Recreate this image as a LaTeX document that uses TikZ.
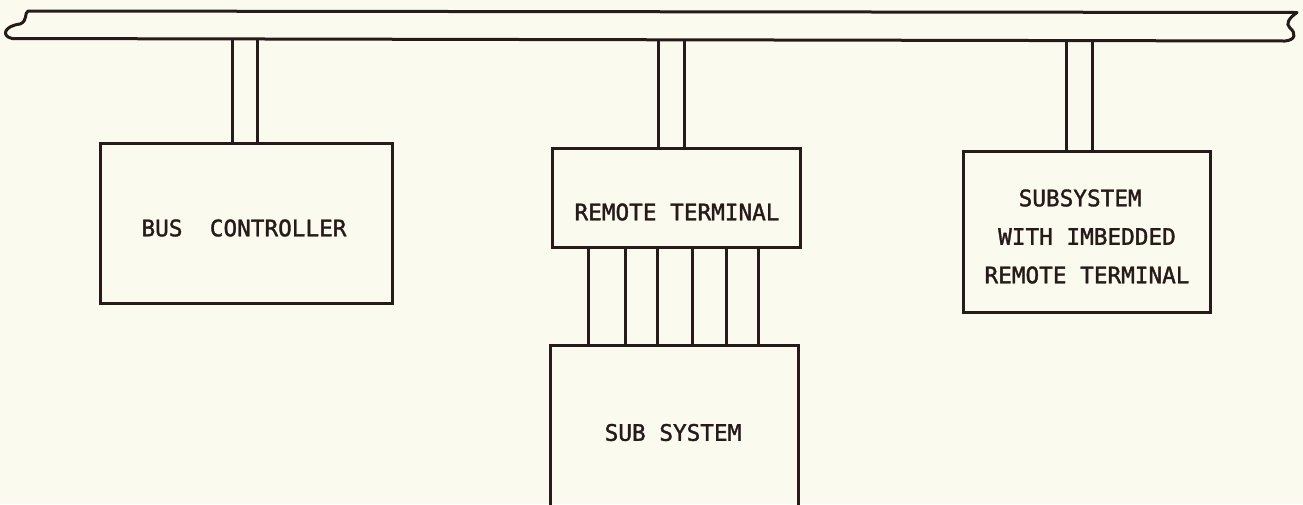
\documentclass[tikz,border=0pt]{standalone}
\usepackage{fontspec}
\newfontfamily\lettering[FakeBold=1.5]{DejaVu Sans Mono}
\definecolor{paper}{RGB}{251,250,238}
\definecolor{ink}{RGB}{38,26,26}
\begin{document}
\begin{tikzpicture}[x=1pt,y=-1pt,
  wire/.style={draw=ink,line width=3pt,line join=round},
  box/.style={draw=ink,line width=3pt,inner sep=0pt},
  lbl/.style={text=ink,font=\lettering\fontsize{22.7pt}{38.5pt}\selectfont,inner sep=0pt,align=center}]
\useasboundingbox (0,0) rectangle (1303,504);
\fill[paper] (0,0) rectangle (1303,504);
\clip (0,0) rectangle (1303,504);
% bus
\draw[wire] (28,11) -- (1297,12.5)
  .. controls (1289,18) and (1285,24) .. (1290,28)
  .. controls (1296,33) and (1296,40) .. (1285,41)
  -- (12,38.5)
  .. controls (1,36) and (4,26) .. (20,24)
  .. controls (28,21) and (24,13) .. (28,11) -- cycle;
\coordinate (b1) at (232,40);
\coordinate (b2) at (257,40);
\coordinate (b3) at (658,40);
\coordinate (b4) at (684,40);
\coordinate (b5) at (1066,40);
\coordinate (b6) at (1092,40);
% boxes
\node[box,minimum width=292pt,minimum height=160pt] (bc) at (246,223) {};
\node[box,minimum width=248pt,minimum height=99pt] (rt) at (676,197.5) {};
\node[box,minimum width=248pt,minimum height=175pt] (ss) at (674,432.5) {};
\node[box,minimum width=247pt,minimum height=161pt] (sr) at (1086.5,231.5) {};
% labels
\node[lbl] (bcl) at ([xshift=-2pt,yshift=-5pt]bc.center) {BUS\ \ CONTROLLER};
\node[lbl] (rtl) at ([xshift=1pt,yshift=-14.5pt]rt.center) {REMOTE TERMINAL};
\node[lbl] (ssl) at ([xshift=-1pt]ss.center) {SUB SYSTEM};
\node[lbl] (srl) at ([xshift=0.5pt,yshift=-5pt]sr.center) {SUBSYSTEM\phantom{X}\\WITH IMBEDDED\\REMOTE TERMINAL};
% bus stubs
\foreach \b/\t in {b1/bc,b2/bc,b3/rt,b4/rt,b5/sr,b6/sr}
  \draw[wire] (\b) -- (\t.north -| \b);
% remote terminal to subsystem
\foreach \x in {588,625,657,692,726,758}
  \draw[wire] (rt.south -| \x,0) -- (ss.north -| \x,0);
\end{tikzpicture}
\end{document}
